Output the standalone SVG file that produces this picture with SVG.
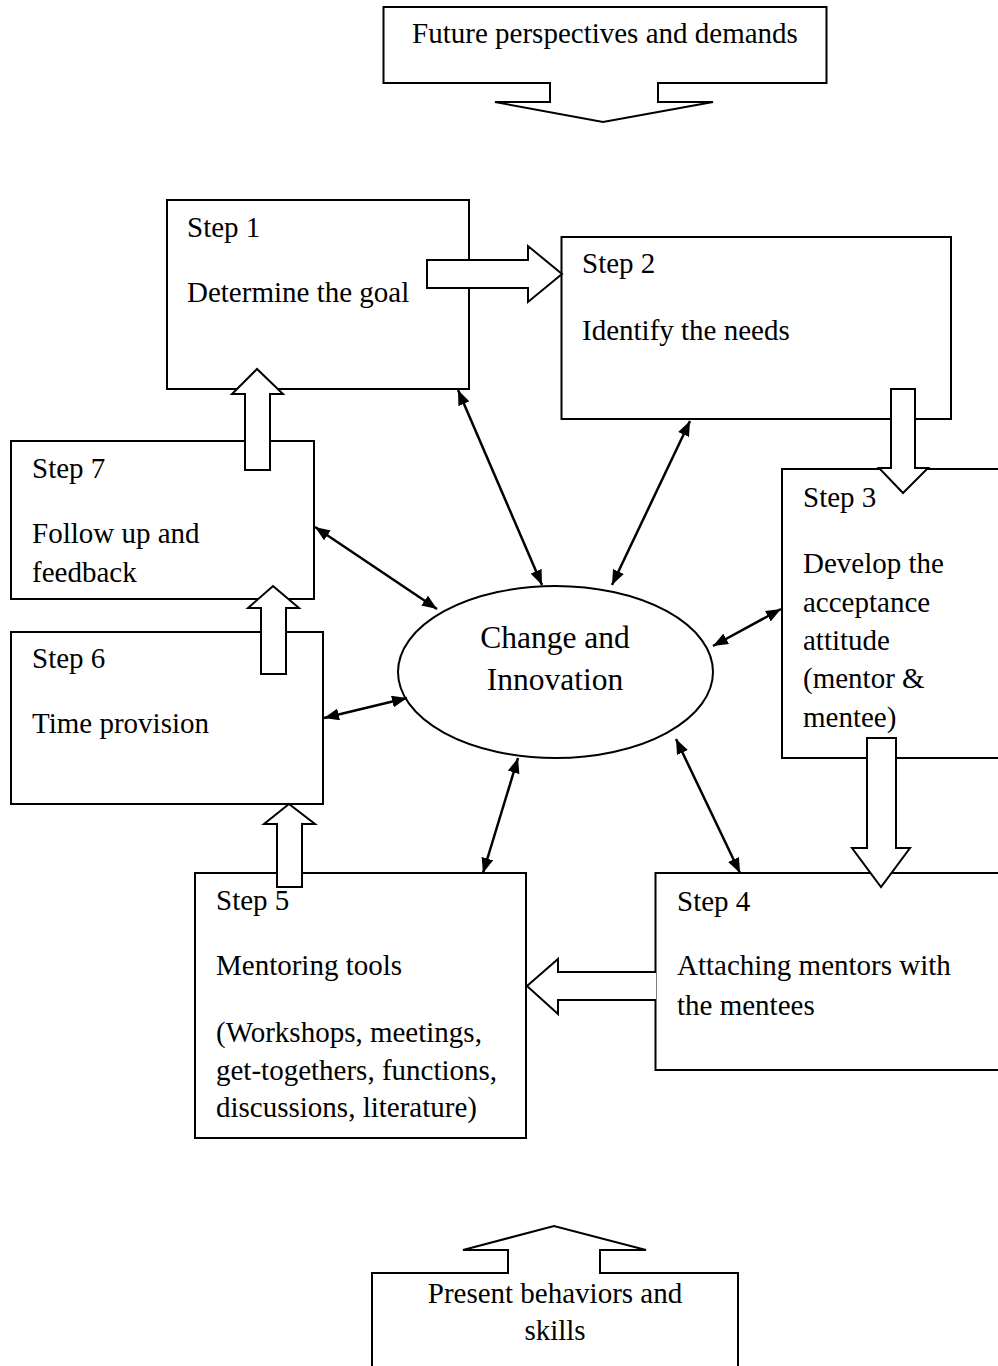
<svg xmlns="http://www.w3.org/2000/svg" width="998" height="1366" viewBox="0 0 998 1366">
<style>
.box{fill:#fff;stroke:#000;stroke-width:2}
.blk{fill:#fff;stroke:#000;stroke-width:2;stroke-linejoin:miter}
.t{font-family:"Liberation Serif","Times New Roman",serif;font-size:29px;fill:#000}
.c{text-anchor:middle}
.big{font-size:31.5px}
.con{stroke:#000;stroke-width:2.5;fill:none;marker-start:url(#ah);marker-end:url(#ah)}
</style>
<defs>
<marker id="ah" markerUnits="userSpaceOnUse" viewBox="0 0 15 12" refX="15" refY="6" markerWidth="15" markerHeight="12" orient="auto-start-reverse">
<path d="M0,0 L15,6 L0,12 Z" fill="#000"/>
</marker>
</defs>
<rect width="998" height="1366" fill="#fff"/>

<g id="future">
<path class="blk" d="M383.5,7 H826.5 V83 H658 V102 H713 L603,122 L495,102 H550 V83 H383.5 Z"/>
<text class="t c" x="605" y="43">Future perspectives and demands</text>
</g>

<g id="present">
<path class="blk" d="M372,1380 V1273 H508 V1250 H463 L554,1226 L646,1250 H600 V1273 H738 V1380"/>
<text class="t c" x="555" y="1303">Present behaviors and</text>
<text class="t c" x="555" y="1340">skills</text>
</g>

<g id="step1">
<rect class="box" x="167" y="200" width="302" height="189"/>
</g>
<g id="step2">
<rect class="box" x="561.5" y="237" width="389.5" height="182"/>
</g>
<g id="step3">
<rect class="box" x="782" y="469" width="230" height="289"/>
</g>
<g id="step4">
<rect class="box" x="655.5" y="873" width="356" height="197"/>
</g>
<g id="step5">
<rect class="box" x="195" y="873" width="331" height="265"/>
</g>
<g id="step6">
<rect class="box" x="11" y="632" width="312" height="172"/>
</g>
<g id="step7">
<rect class="box" x="11" y="441" width="303" height="158"/>
</g>
<g id="center">
<ellipse class="box" cx="555.5" cy="672" rx="157.5" ry="86"/>
</g>

<g id="flow-arrows">
<path class="blk" d="M427,260 H528 V246 L562,274 L528,302 V288 H427 Z"/>
<path class="blk" d="M891,389 H915 V468 H928 L903,493 L879,468 H891 Z"/>
<path class="blk" d="M867,738 H896 V848 H910 L881,887 L852,848 H867 Z"/>
<path class="blk" d="M656,972 H558 V959 L527,986 L558,1014 V1000 H656"/>
<path class="blk" d="M277,887 V824 H264 L289,804 L315,824 H302 V887 Z"/>
<path class="blk" d="M261,674 V608 H248 L273,586 L299,608 H286 V674 Z"/>
<path class="blk" d="M245,470 V394 H232 L257,369 L283,394 H270 V470 Z"/>
</g>

<g id="connectors">
<line class="con" x1="458" y1="390" x2="542" y2="585"/>
<line class="con" x1="690" y1="421" x2="612" y2="585"/>
<line class="con" x1="315" y1="527" x2="437" y2="609"/>
<line class="con" x1="781" y1="609" x2="713" y2="646"/>
<line class="con" x1="324" y1="718" x2="407" y2="698"/>
<line class="con" x1="483" y1="873" x2="518" y2="758"/>
<line class="con" x1="740" y1="873" x2="676" y2="739"/>
</g>

<g id="labels">
<text class="t" x="187" y="237">Step 1</text>
<text class="t" x="187" y="302">Determine the goal</text>
<text class="t" x="582" y="273">Step 2</text>
<text class="t" x="582" y="340">Identify the needs</text>
<text class="t" x="803" y="507">Step 3</text>
<text class="t" x="803" y="573">Develop the</text>
<text class="t" x="803" y="612">acceptance</text>
<text class="t" x="803" y="650">attitude</text>
<text class="t" x="803" y="688">(mentor &amp;</text>
<text class="t" x="803" y="727">mentee)</text>
<text class="t" x="677" y="911">Step 4</text>
<text class="t" x="677" y="975">Attaching mentors with</text>
<text class="t" x="677" y="1015">the mentees</text>
<text class="t" x="216" y="910">Step 5</text>
<text class="t" x="216" y="975">Mentoring tools</text>
<text class="t" x="216" y="1042">(Workshops, meetings,</text>
<text class="t" x="216" y="1080">get-togethers, functions,</text>
<text class="t" x="216" y="1117">discussions, literature)</text>
<text class="t" x="32" y="668">Step 6</text>
<text class="t" x="32" y="733">Time provision</text>
<text class="t" x="32" y="478">Step 7</text>
<text class="t" x="32" y="543">Follow up and</text>
<text class="t" x="32" y="582">feedback</text>
<text class="t c big" x="555" y="648">Change and</text>
<text class="t c big" x="555" y="690">Innovation</text>
</g>
</svg>
